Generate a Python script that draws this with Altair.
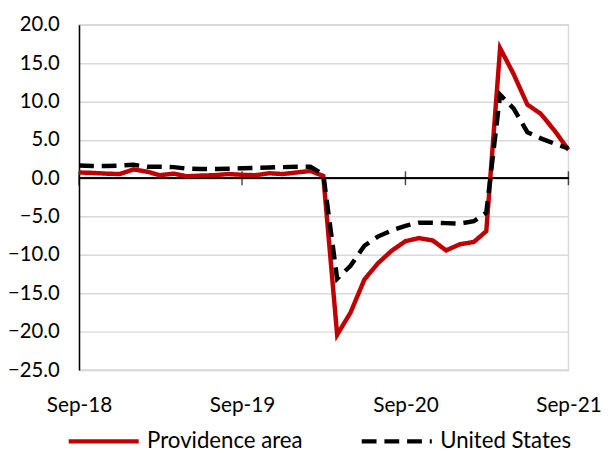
import altair as alt
import pandas as pd

months = pd.date_range("2018-09-01", periods=37, freq="MS").strftime("%Y-%m-%d").tolist()

providence = [0.75, 0.7, 0.6, 0.55, 1.15, 0.85, 0.4, 0.6, 0.25, 0.35, 0.4, 0.55, 0.45, 0.4, 0.65, 0.55, 0.75, 0.95, 0.3,
              -20.4, -17.5, -13.2, -11.1, -9.45, -8.2, -7.8, -8.1, -9.4, -8.6, -8.3, -6.9,
              16.95, 13.6, 9.6, 8.4, 6.2, 3.7]
united_states = [1.65, 1.6, 1.6, 1.65, 1.75, 1.5, 1.5, 1.45, 1.25, 1.2, 1.2, 1.25, 1.3, 1.35, 1.4, 1.45, 1.5, 1.5, 0.5,
                 -13.1, -11.4, -8.8, -7.6, -6.8, -6.2, -5.8, -5.8, -5.85, -5.9, -5.6, -4.5,
                 10.9, 9.1, 6.0, 5.2, 4.5, 3.9]
series_names = ["Providence area", "United States"]
tick_dates = ["2018-09-01", "2019-09-01", "2020-09-01", "2021-09-01"]
y_ticks = [-25, -20, -15, -10, -5, 0, 5, 10, 15, 20]

df = pd.DataFrame({
    "date": months * 2,
    "value": providence + united_states,
    "series": [series_names[0]] * len(months) + [series_names[1]] * len(months),
})
ticks_df = pd.DataFrame({"date": tick_dates})

FONT = "Lato"
x_scale = alt.Scale(type="utc",
                    domain=[alt.DateTime(year=2018, month=9, date=1, utc=True),
                            alt.DateTime(year=2021, month=9, date=1, utc=True)])
x_axis = alt.Axis(values=[alt.DateTime(year=int(d[:4]), month=9, date=1, utc=True) for d in tick_dates],
                  labelExpr="utcFormat(datum.value, '%b-%y')", title=None, grid=False, ticks=False,
                  domain=True, domainColor="#d9d9d9", domainWidth=1.5,
                  labelFontSize=21, labelFont=FONT, labelColor="#000000", labelPadding=25,
                  labelFlush=False, labelOverlap=False)
y_scale = alt.Scale(domain=[-25, 20], nice=False, zero=False)
y_axis = alt.Axis(values=y_ticks, format=".1f", title=None, ticks=False,
                  domainColor="#000000", domainWidth=1.5,
                  grid=True, gridColor="#d9d9d9", gridWidth=1.5, labelOverlap=False,
                  labelFontSize=20.5, labelFont=FONT, labelColor="#000000", labelPadding=20)

legend = alt.Legend(title=None, orient="none", legendX=-13, legendY=384, direction="horizontal",
                    symbolType="stroke", symbolSize=5041, symbolStrokeWidth=4.5,
                    labelFontSize=22.5, labelFont=FONT, labelColor="#000000", labelOffset=6,
                    columnPadding=50, labelLimit=400)

zero_rule = alt.Chart(ticks_df).mark_rule(color="#000000", strokeWidth=1.5).encode(
    y=alt.YDatum(0, scale=y_scale, axis=y_axis)
)
zero_ticks = alt.Chart(ticks_df).mark_tick(orient="vertical", size=14, thickness=1.5, color="#000000").encode(
    x=alt.X("date:T", scale=x_scale, axis=x_axis),
    y=alt.YDatum(0, scale=y_scale, axis=y_axis),
)
lines = alt.Chart(df).mark_line(strokeWidth=4.5).encode(
    x=alt.X("date:T", scale=x_scale, axis=x_axis),
    y=alt.Y("value:Q", scale=y_scale, axis=y_axis),
    color=alt.Color("series:N", sort=series_names,
                    scale=alt.Scale(domain=series_names, range=["#c00000", "#000000"]),
                    legend=legend),
    strokeDash=alt.StrokeDash("series:N", sort=series_names,
                              scale=alt.Scale(domain=series_names, range=[[1, 0], [15, 8]]),
                              legend=legend),
)

chart = alt.layer(zero_rule, zero_ticks, lines).properties(
    width=496, height=350,
    autosize=alt.AutoSizeParams(type="none"),
    padding={"left": 72, "top": 14, "right": 33, "bottom": 80},
).configure_view(
    stroke="#d9d9d9", strokeWidth=1.5
).configure_axisY(labelOverlap=False)

chart.save("out.html", embed_options={"renderer": "svg", "actions": False})
